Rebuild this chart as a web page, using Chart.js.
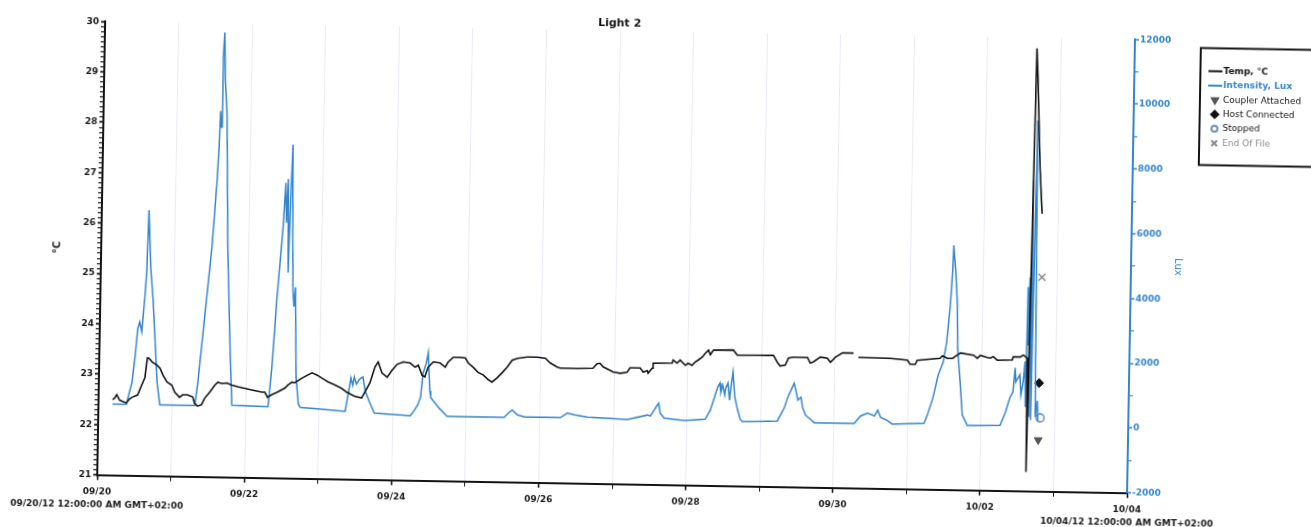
<!DOCTYPE html>
<html>
<head>
<meta charset="utf-8">
<title>Light 2</title>
<script src="https://cdn.jsdelivr.net/npm/chart.js@4.4.1/dist/chart.umd.min.js"></script>
<style>
  html, body { margin: 0; padding: 0; background: #fff; overflow: hidden; }
  /* the source is a slightly tilted scan */
  #light2 { display: block; transform: rotate(1deg); transform-origin: 50% 50%; }
</style>
</head>
<body>
<canvas id="light2" width="1311" height="527"></canvas>
<script>
// x values are hours since 09/20/12 00:00
const dayLabels = ["09/20", "09/21", "09/22", "09/23", "09/24", "09/25", "09/26", "09/27",
  "09/28", "09/29", "09/30", "10/01", "10/02", "10/03", "10/04"];
const startStamp = "09/20/12 12:00:00 AM GMT+02:00";
const endStamp = "10/04/12 12:00:00 AM GMT+02:00";

const tempHours = [4.6, 5.2, 5.9, 6.9, 9.1, 10.1, 11.1, 12.7, 14.4, 15.0, 15.7, 16.3, 17.3, 18.9, 19.9,
  20.9, 22.2, 23.8, 24.8, 26.4, 27.4, 29.0, 30.7, 31.3, 32.3, 33.6, 34.6, 36.2, 37.8, 38.8, 40.1, 41.8,
  43.4, 45.3, 47.6, 49.9, 53.2, 54.2, 55.1, 56.4, 58.4, 60.7, 61.7, 63.0, 63.9, 66.2, 67.9, 69.5, 71.1,
  72.7, 74.7, 77.0, 79.3, 80.9, 83.5, 85.8, 88.4, 90.0, 91.0, 92.3, 94.0, 95.6, 97.2, 99.2, 101.4, 103.1,
  104.1, 105.4, 106.3, 107.3, 109.0, 111.2, 112.9, 113.8, 115.5, 117.8, 119.4, 120.4, 122.0, 123.6, 125.3,
  126.9, 128.2, 129.8, 131.5, 133.1, 134.7, 136.4, 139.6, 142.9, 145.5, 147.1, 149.4, 150.4, 155.9, 161.1,
  162.4, 163.4, 164.4, 167.7, 170.0, 172.2, 173.2, 176.5, 177.5, 178.8, 179.1, 180.4, 180.7, 186.9, 187.2,
  188.5, 189.5, 191.2, 192.1, 193.4, 194.4, 195.4, 196.7, 197.7, 198.7, 199.3, 200.3, 206.8, 208.1, 219.9,
  221.2, 222.1, 223.8, 224.8, 226.4, 231.0, 231.9, 232.9, 235.2, 237.5, 238.5, 240.1, 242.4, 246.0, 246.6,
  247.6, 258.0, 263.6, 264.5, 266.2, 266.8, 274.3, 275.0, 276.6, 278.3, 279.9, 280.9, 285.2, 286.4, 287.4,
  289.7, 290.7, 291.6, 292.9, 297.8, 298.1, 300.4, 301.4, 302.7, 302.9, 304.1, 304.6, 305.2, 305.8, 306.3,
  306.7];
const tempValues = [22.50, 22.53, 22.60, 22.49, 22.44, 22.52, 22.56, 22.60, 22.86, 22.95, 23.34, 23.33,
  23.26, 23.20, 23.14, 23.00, 22.87, 22.81, 22.67, 22.57, 22.62, 22.62, 22.58, 22.46, 22.40, 22.43, 22.56,
  22.68, 22.82, 22.88, 22.86, 22.87, 22.83, 22.80, 22.77, 22.74, 22.70, 22.70, 22.60, 22.65, 22.71, 22.79,
  22.85, 22.91, 22.90, 22.99, 23.05, 23.10, 23.06, 23.00, 22.93, 22.87, 22.80, 22.73, 22.65, 22.62, 22.92,
  23.24, 23.34, 23.12, 23.04, 23.18, 23.30, 23.35, 23.33, 23.25, 23.29, 23.09, 23.06, 23.25, 23.36, 23.34,
  23.26, 23.36, 23.46, 23.46, 23.45, 23.35, 23.27, 23.17, 23.12, 23.03, 22.98, 23.06, 23.17, 23.28, 23.42,
  23.46, 23.49, 23.49, 23.47, 23.38, 23.30, 23.28, 23.28, 23.29, 23.38, 23.39, 23.32, 23.22, 23.20, 23.22,
  23.31, 23.31, 23.23, 23.26, 23.21, 23.31, 23.41, 23.42, 23.48, 23.42, 23.48, 23.38, 23.42, 23.38, 23.45,
  23.49, 23.55, 23.63, 23.69, 23.60, 23.69, 23.70, 23.60, 23.61, 23.47, 23.40, 23.42, 23.56, 23.58, 23.58,
  23.47, 23.49, 23.59, 23.57, 23.49, 23.59, 23.68, 23.68, null, 23.60, 23.59, 23.56, 23.48, 23.48, 23.56,
  23.61, 23.66, 23.61, 23.61, 23.68, 23.72, 23.68, 23.62, 23.68, 23.64, 23.63, 23.66, 23.59, 23.60, 23.66,
  23.66, 23.70, 23.64, 21.38, 29.79, 29.20, 28.30, 27.40, 26.90, 26.51];

const luxHours = [4.6, 9.1, 10.8, 11.7, 12.4, 13.0, 13.7, 14.5, 15.0, 15.4, 16.3, 17.2, 19.0, 20.0,
  31.4, 32.3, 34.2, 36.1, 37.4, 37.9, 38.2, 38.5, 38.8, 39.1, 39.6, 40.3, 41.3, 42.6, 43.5,
  55.3, 56.4, 57.6, 59.2, 59.9, 60.3, 60.7, 61.1, 61.5, 62.0, 62.4, 62.8, 63.2, 63.6, 64.3, 65.2, 65.8,
  80.5, 81.5, 82.2, 82.8, 83.3, 84.0, 85.0, 86.1, 86.6, 87.0, 88.4, 90.0,
  101.8, 103.1, 104.1, 105.0, 105.7, 106.7, 107.3, 108.0, 108.3, 109.6, 111.2, 113.8,
  132.4, 134.1, 135.0, 136.7, 139.0, 150.7, 153.0, 155.3, 159.5, 172.6,
  179.1, 180.1, 181.7, 182.7, 183.3, 184.6, 191.2,
  198.0, 199.6, 200.9, 201.9, 202.6, 202.9, 203.5, 204.2, 204.5, 205.2, 205.8, 206.2, 206.8, 207.5, 208.5,
  209.4, 210.1,
  221.5, 223.8, 224.8, 225.8, 226.8, 227.4, 228.1, 229.1, 229.7, 230.7, 232.0, 233.6,
  246.6, 248.6, 250.9, 253.2, 254.2, 255.2, 257.5, 259.0,
  269.4, 270.4, 272.1, 273.7, 275.3, 276.3, 277.3, 277.9, 278.1, 278.9, 279.6, 279.9, 280.9, 281.8, 283.5,
  294.2, 295.9, 297.2, 298.2, 298.8, 299.1, 300.4, 300.8, 301.5, 302.0, 302.3, 302.6, 302.9, 303.2, 303.5,
  303.8, 304.1, 304.4, 304.8, 305.2, 305.6, 306.2, 306.5];
const luxValues = [200, 200, 880, 1700, 2540, 2750, 2450, 3470, 4300, 6200, 4400, 3480, 880, 200,
  200, 920, 2990, 5060, 7100, 8200, 9300, 8800, 11000, 11730, 10200, 9190, 5080, 1990, 230,
  200, 1480, 3540, 5700, 7120, 5890, 7240, 4350, 6400, 8300, 5600, 3800, 3300, 3900, 1100, 300, 200,
  100, 700, 1130, 900, 1160, 950, 1100, 1170, 900, 710, 400, 60,
  0, 170, 330, 570, 1310, 1620, 1960, 780, 570, 420, 240, 0,
  0, 165, 230, 80, 20, 20, 165, 110, 50, 0,
  147, 116, 370, 520, 210, 60, 0,
  50, 330, 740, 1050, 1170, 900, 1110, 810, 1020, 1180, 650, 1060, 1520, 750, 350,
  70, 0,
  30, 460, 780, 990, 1210, 990, 690, 780, 450, 230, 130, 0,
  0, 230, 330, 240, 420, 200, 100, 0,
  45, 295, 820, 1530, 1940, 2560, 3700, 4840, 5550, 4720, 3720, 2400, 1350, 320, 0,
  20, 440, 870, 1060, 1800, 1370, 1590, 970, 1400, 2000, 600, 4300, 2500, 4600, 300,
  7600, 200, 4500, 9450, 4400, 300, 800, 150];

const eventNames = ["Coupler Attached", "Host Connected", "Stopped", "End Of File"];
const eventHours = [306.7, 306.7, 307.2, 307.0];
const eventLevels = [22.02, 23.15, 22.46, 25.25];   // plotted on the °C axis

const seriesNames = ["Temp, °C", "Intensity, Lux"];

const BLUE = "#3585cc";
const INK = "#141414";
const FONT = "'DejaVu Sans', sans-serif";
const TICK_FONT = { family: FONT, size: 9, weight: "bold" };

const eventStyles = [
  { pointStyle: "triangle", rotation: 180, radius: 4.5, color: "#555", fill: "#555", width: 1 },
  { pointStyle: "rectRot", rotation: 0, radius: 4.5, color: "#111", fill: "#111", width: 1 },
  { pointStyle: "circle", rotation: 0, radius: 4, color: "#6f8fae", fill: "rgba(0,0,0,0)", width: 1.6 },
  { pointStyle: "crossRot", rotation: 0, radius: 5, color: "#8a8a8a", fill: "#8a8a8a", width: 1.5 }
];

const isWhole = v => Math.abs(v - Math.round(v)) < 1e-6;

// evenly spaced tick values for an axis (minor + major)
const tickRun = (min, max, step) => {
  const out = [];
  const n = Math.round((max - min) / step);
  for (let i = 0; i <= n; i++) out.push({ value: +(min + i * step).toFixed(4) });
  return out;
};

// legend box drawn to the right of the plot, as in the logger software
const sideLegend = {
  id: "sideLegend",
  afterDraw(chart) {
    const ctx = chart.ctx;
    const left = 1197, top = 38.5, rowY = 61.5, rowStep = 14.4;
    ctx.save();
    ctx.strokeStyle = INK;
    ctx.lineWidth = 2;
    ctx.strokeRect(left, top, 130, 117);
    ctx.font = "bold 9px " + FONT;
    ctx.textBaseline = "middle";
    ctx.textAlign = "left";

    const seriesColors = [INK, BLUE];
    seriesNames.forEach((name, i) => {
      const y = rowY + i * rowStep;
      ctx.strokeStyle = seriesColors[i];
      ctx.lineWidth = 2;
      ctx.beginPath();
      ctx.moveTo(left + 8, y);
      ctx.lineTo(left + 22, y);
      ctx.stroke();
      ctx.fillStyle = seriesColors[i];
      ctx.fillText(name, left + 23, y);
    });

    ctx.font = "9px " + FONT;
    eventNames.forEach((name, i) => {
      const y = rowY + (i + 2) * rowStep;
      const st = eventStyles[i];
      ctx.strokeStyle = st.color;
      ctx.fillStyle = st.fill;
      Chart.helpers.drawPoint(ctx, {
        pointStyle: st.pointStyle, rotation: st.rotation,
        radius: st.radius - 1, borderWidth: st.width
      }, left + 15, y);
      ctx.fillStyle = i === 3 ? "#8a8a8a" : INK;
      ctx.fillText(name, left + 23, y);
    });
    ctx.restore();
  }
};

const toPoints = (xs, ys) => xs.map((x, i) => ({ x: x, y: ys[i] }));

const datasets = [
  {
    label: seriesNames[0],
    data: toPoints(tempHours, tempValues),
    yAxisID: "y",
    borderColor: INK,
    borderWidth: 1.6,
    pointRadius: 0,
    spanGaps: false
  },
  {
    label: seriesNames[1],
    data: toPoints(luxHours, luxValues),
    yAxisID: "y1",
    borderColor: BLUE,
    borderWidth: 1.5,
    pointRadius: 0
  }
];
eventNames.forEach((name, i) => {
  const st = eventStyles[i];
  datasets.push({
    label: name,
    data: [{ x: eventHours[i], y: eventLevels[i] }],
    yAxisID: "y",
    showLine: false,
    pointStyle: st.pointStyle,
    rotation: st.rotation,
    pointRadius: st.radius,
    borderColor: st.color,
    backgroundColor: st.fill,
    borderWidth: st.width
  });
});

new Chart(document.getElementById("light2"), {
  type: "line",
  data: { datasets },
  options: {
    responsive: false,
    animation: false,
    devicePixelRatio: 1,
    layout: { padding: { left: 45, right: 125, top: 0, bottom: 0 } },
    font: { family: FONT, size: 10 },
    plugins: {
      legend: { display: false },
      tooltip: { enabled: false },
      title: {
        display: true,
        text: "Light 2",
        color: INK,
        font: { family: FONT, size: 11, weight: "bold" },
        padding: { top: 18, bottom: 0 }
      }
    },
    scales: {
      x: {
        type: "linear",
        min: 0,
        max: 336,
        afterFit: s => { s.height = 42.3; },
        ticks: {
          stepSize: 24,
          autoSkip: false,
          maxRotation: 0,
          minRotation: 0,
          padding: 4.5,
          color: "#1c1c1c",
          font: Object.assign({}, TICK_FONT, { lineHeight: 1.55 }),
          callback: v => {
            const k = Math.round(v / 24);
            if (k === 0) return [dayLabels[0], startStamp];
            if (k === 14) return [dayLabels[14], endStamp];
            return k % 2 === 0 ? dayLabels[k] : "";
          }
        },
        grid: {
          color: "rgba(205,205,232,0.4)",
          tickColor: INK,
          tickLength: 5,
          tickWidth: c => (Math.round(c.tick.value / 24) % 2 === 0 ? 1.6 : 1),
          lineWidth: 1
        },
        border: { color: INK, width: 2 }
      },
      y: {
        type: "linear",
        position: "left",
        min: 21,
        max: 30,
        afterFit: s => { s.width = 56; },
        afterBuildTicks: s => { s.ticks = tickRun(21, 30, 0.1); },
        ticks: {
          autoSkip: false,
          padding: 2,
          color: "#1c1c1c",
          font: TICK_FONT,
          callback: v => (isWhole(v) ? String(Math.round(v)) : "")
        },
        grid: {
          drawOnChartArea: false,
          tickLength: 4,
          tickColor: INK,
          tickWidth: c => (isWhole(c.tick.value) ? 1.8 : 1.2)
        },
        border: { color: INK, width: 2 },
        title: {
          display: true,
          text: "°C",
          color: "#222",
          font: { family: FONT, size: 10, weight: "bold" },
          padding: { top: 6, bottom: 0 }
        }
      },
      y1: {
        type: "linear",
        position: "right",
        min: -2000,
        max: 12000,
        afterFit: s => { s.width = 55; },
        afterBuildTicks: s => { s.ticks = tickRun(-2000, 12000, 1000); },
        ticks: {
          autoSkip: false,
          padding: 1,
          color: BLUE,
          font: TICK_FONT,
          callback: v => (v % 2000 === 0 ? String(v) : "")
        },
        grid: {
          drawOnChartArea: false,
          tickLength: 4,
          tickColor: BLUE,
          tickWidth: c => (c.tick.value % 2000 === 0 ? 1.6 : 1.2)
        },
        border: { color: BLUE, width: 2 },
        title: {
          display: true,
          text: "Lux",
          color: BLUE,
          font: { family: FONT, size: 10 },
          padding: { top: 2, bottom: 0 }
        }
      }
    }
  },
  plugins: [sideLegend]
});
</script>
</body>
</html>
